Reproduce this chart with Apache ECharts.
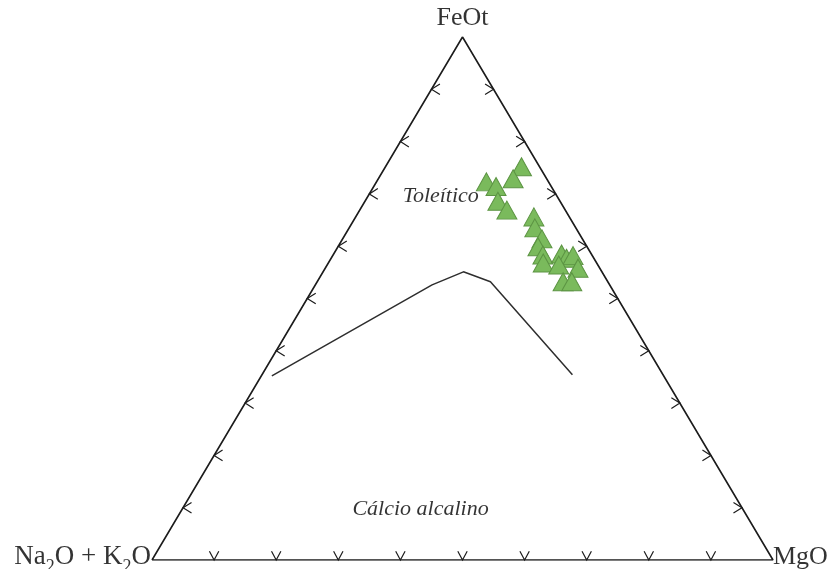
<!DOCTYPE html>
<html>
<head>
<meta charset="utf-8">
<script src="https://cdn.jsdelivr.net/npm/echarts@6/dist/echarts.min.js"></script>
<style>
  html, body { margin: 0; padding: 0; background: #ffffff; }
  #chart { width: 830px; height: 569px; }
</style>
</head>
<body>
<div id="chart"></div>
<script>
// AFM ternary diagram (Irvine & Baragar): FeOt – MgO – Na2O + K2O, wt% normalised to 100

// Samples
const sampleFeOt = [75.2, 72.9, 72.3, 71.4, 68.6, 66.9, 65.6, 63.5, 61.4, 59.9, 58.3, 56.8, 58.5, 57.7, 58.2, 56.4, 55.8, 53.2, 53.2];
const sampleMgO  = [21.9, 21.7, 17.7, 19.7, 21.4, 23.7, 28.7, 29.9, 32.1, 32.2, 33.8, 34.6, 36.7, 37.9, 38.7, 37.3, 40.7, 39.6, 41.0];
const sampleAlk  = [ 2.9,  5.4, 10.0,  8.9, 10.0,  9.4,  5.7,  6.6,  6.5,  7.9,  7.9,  8.6,  4.8,  4.4,  3.1,  6.3,  3.5,  7.2,  5.8];

// Tholeiitic / calc-alkaline boundary
const boundaryFeOt = [35.2, 52.6, 55.1, 53.2, 35.4];
const boundaryMgO  = [ 1.7, 18.8, 22.6, 27.9, 50.0];
const boundaryAlk  = [63.1, 28.6, 22.3, 18.9, 14.6];

// Tick positions along each side (%)
const tickValues = [10, 20, 30, 40, 50, 60, 70, 80, 90];

// Field names and their ternary anchor (FeOt, MgO, Na2O+K2O)
const fieldNames = ['Toleítico', 'Cálcio alcalino'];
const fieldFeOt  = [69.6, 9.7];
const fieldMgO   = [11.7, 38.4];
const fieldAlk   = [18.7, 51.9];

const H = Math.sqrt(3) / 2;
// ternary -> cartesian in a unit-side triangle
function toXY(f, m, a) {
  const s = f + m + a;
  return [(m + f / 2) / s, (f / s) * H];
}

const corners = [[0, 0], [1, 0], [0.5, H]]; // Na2O+K2O, MgO, FeOt
const outline = [corners[0], corners[1], corners[2], corners[0]];

const samples = sampleFeOt.map((f, i) => toXY(f, sampleMgO[i], sampleAlk[i]));
const boundary = boundaryFeOt.map((f, i) => toXY(f, boundaryMgO[i], boundaryAlk[i]));
const fields = fieldNames.map((n, i) => ({ name: n, value: toXY(fieldFeOt[i], fieldMgO[i], fieldAlk[i]) }));

// tick apex positions: edge 0 = base, 1 = left side, 2 = right side
const ticks = [];
tickValues.forEach(v => ticks.push([v / 100, 0, 0]));
tickValues.forEach(v => ticks.push([0.5 * v / 100, H * v / 100, 1]));
tickValues.forEach(v => ticks.push([1 - 0.5 * v / 100, H * v / 100, 2]));

// chevron arms in screen pixels (dx, dy), pointing into the triangle
const armLen = 10;
const rad = a => a * Math.PI / 180;
const chevron = {
  0: [[-Math.sin(rad(28)), -Math.cos(rad(28))], [Math.sin(rad(28)), -Math.cos(rad(28))]],
  1: [[Math.cos(rad(32)), -Math.sin(rad(32))], [Math.cos(rad(32)), Math.sin(rad(32))]],
  2: [[-Math.cos(rad(32)), -Math.sin(rad(32))], [-Math.cos(rad(32)), Math.sin(rad(32))]]
};

const serif = '"Liberation Serif", "Times New Roman", serif';
const ink = '#1c1c1c';
const textInk = '#000000';

const chart = echarts.init(document.getElementById('chart'), null, { renderer: 'canvas' });
chart.setOption({
  animation: false,
  backgroundColor: '#ffffff',
  grid: { left: 152, right: 57, top: 37, bottom: 9, containLabel: false },
  xAxis: { type: 'value', min: 0, max: 1, show: false },
  yAxis: { type: 'value', min: 0, max: H, show: false },
  series: [
    {
      name: 'outline',
      type: 'line',
      data: outline,
      symbol: 'none',
      lineStyle: { color: ink, width: 1.6 },
      silent: true,
      z: 2
    },
    {
      name: 'ticks',
      type: 'custom',
      data: ticks,
      encode: { x: 0, y: 1 },
      clip: false,
      silent: true,
      renderItem: function (params, api) {
        const p0 = api.coord([api.value(0), api.value(1)]);
        const arms = chevron[api.value(2)];
        const p1 = [p0[0] + armLen * arms[0][0], p0[1] + armLen * arms[0][1]];
        const p2 = [p0[0] + armLen * arms[1][0], p0[1] + armLen * arms[1][1]];
        return {
          type: 'polyline',
          shape: { points: [p1, p0, p2] },
          style: { stroke: ink, lineWidth: 1.2, fill: null }
        };
      },
      z: 3
    },
    {
      name: 'boundary',
      type: 'line',
      data: boundary,
      symbol: 'none',
      lineStyle: { color: '#2e2e2e', width: 1.5 },
      silent: true,
      z: 2
    },
    {
      name: 'samples',
      type: 'scatter',
      data: samples,
      symbol: 'triangle',
      symbolSize: [20, 18],
      itemStyle: { color: '#7aba5c', borderColor: '#5c9443', borderWidth: 1, opacity: 1 },
      z: 5
    },
    {
      name: 'fields',
      type: 'scatter',
      data: fields,
      symbolSize: 0,
      silent: true,
      label: {
        show: true,
        position: 'inside',
        formatter: '{b}',
        fontFamily: serif,
        fontStyle: 'italic',
        fontSize: 22,
        color: textInk
      },
      z: 4
    },
    {
      name: 'apices',
      type: 'scatter',
      symbolSize: 0,
      silent: true,
      data: [
        {
          value: corners[0],
          label: {
            show: true,
            position: 'left',
            distance: 1,
            offset: [0, -3],
            formatter: '{m|Na}{s|2}{m|O + K}{s|2}{m|O}',
            rich: {
              m: { fontFamily: serif, fontSize: 27, lineHeight: 27, verticalAlign: 'top', color: textInk },
              s: { fontFamily: serif, fontSize: 18, lineHeight: 18, verticalAlign: 'top', padding: [15, 0, 0, 0], color: textInk }
            }
          }
        },
        {
          value: corners[1],
          label: {
            show: true, position: 'right', distance: 0, offset: [0, -3],
            formatter: 'MgO', fontFamily: serif, fontSize: 26, color: textInk
          }
        },
        {
          value: corners[2],
          label: {
            show: true, position: 'top', distance: 6,
            formatter: 'FeOt', fontFamily: serif, fontSize: 26, color: textInk
          }
        }
      ],
      z: 4
    }
  ]
});
</script>
</body>
</html>
